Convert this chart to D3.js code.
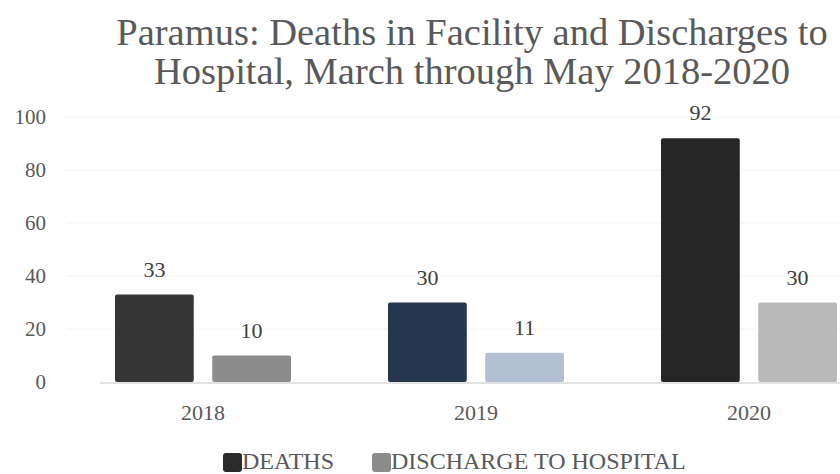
<!DOCTYPE html>
<html>
<head>
<meta charset="utf-8">
<script src="https://cdn.jsdelivr.net/npm/d3@7"></script>
<style>
  body { margin: 0; background: #fff; }
  svg { display: block; }
  text { font-family: 'Liberation Serif', 'Times New Roman', serif; }
</style>
</head>
<body>
<script>
const years = ['2018', '2019', '2020']
const seriesNames = ['DEATHS', 'DISCHARGE TO HOSPITAL']
const deaths = [33, 30, 92]
const discharges = [10, 11, 30]
const yTicks = [0, 20, 40, 60, 80, 100]
const titleLines = ['Paramus: Deaths in Facility and Discharges to', 'Hospital, March through May 2018-2020']

const W = 840, H = 474
const baseY = 382, topY = 117

// the picture fills each bar a little differently, keep it close
const fills = {
  DEATHS: ['#353535', '#27364f', '#262626'],
  'DISCHARGE TO HOSPITAL': ['#8c8c8c', '#b3bfd2', '#b9b9b9']
}
const legendFill = { DEATHS: '#2b2b2b', 'DISCHARGE TO HOSPITAL': '#8c8c8c' }

const rows = years.map((y, i) => ({ year: y, DEATHS: deaths[i], 'DISCHARGE TO HOSPITAL': discharges[i], i }))

const svg = d3.select('body').append('svg').attr('width', W).attr('height', H)

const y = d3.scaleLinear().domain([0, 100]).range([baseY, topY])
const x0 = d3.scaleBand().domain(years).range([66.5, 885.5]).padding(0)
const x1 = d3.scaleBand().domain(seriesNames).range([48.5, 224.5]).paddingInner(0.19)

// title
svg.append('g').selectAll('text').data(titleLines).join('text')
  .attr('x', 472).attr('y', (d, i) => 45 + i * 39)
  .attr('text-anchor', 'middle')
  .attr('font-size', 38.5).attr('fill', '#595959')
  .text(d => d)

// gridlines
svg.append('g').selectAll('line').data(yTicks.slice(1)).join('line')
  .attr('x1', 66).attr('x2', W).attr('y1', d => y(d)).attr('y2', d => y(d))
  .attr('stroke', '#f3f3f3').attr('stroke-width', 1)

// y tick labels
svg.append('g').selectAll('text').data(yTicks).join('text')
  .attr('x', 46).attr('y', d => y(d) + 7)
  .attr('text-anchor', 'end')
  .attr('font-size', 21).attr('fill', '#595959')
  .text(d => d)

// bars
const groups = svg.append('g').selectAll('g').data(rows).join('g')
  .attr('transform', d => `translate(${x0(d.year)},0)`)

groups.selectAll('rect')
  .data(d => seriesNames.map(k => ({ key: k, value: d[k], i: d.i })))
  .join('rect')
  .attr('x', d => x1(d.key))
  .attr('y', d => y(d.value))
  .attr('width', x1.bandwidth())
  .attr('height', d => baseY - y(d.value))
  .attr('rx', 2)
  .attr('fill', d => fills[d.key][d.i])

groups.selectAll('text')
  .data(d => seriesNames.map(k => ({ key: k, value: d[k] })))
  .join('text')
  .attr('x', d => x1(d.key) + x1.bandwidth() / 2)
  .attr('y', d => y(d.value) - 18)
  .attr('text-anchor', 'middle')
  .attr('font-size', 22).attr('fill', '#404040')
  .text(d => d.value)

// baseline
svg.append('line')
  .attr('x1', 100).attr('x2', W).attr('y1', baseY + 1).attr('y2', baseY + 1)
  .attr('stroke', '#d9d9d9').attr('stroke-width', 1.5)

// x labels
svg.append('g').selectAll('text').data(years).join('text')
  .attr('x', d => x0(d) + 48.5 + 88)
  .attr('y', 420)
  .attr('text-anchor', 'middle')
  .attr('font-size', 22).attr('fill', '#595959')
  .text(d => d)

// legend
const legendX = [223, 372]
const lg = svg.append('g').selectAll('g').data(seriesNames).join('g')
  .attr('transform', (d, i) => `translate(${legendX[i]},453)`)
lg.append('rect').attr('width', 19).attr('height', 19).attr('rx', 3)
  .attr('fill', d => legendFill[d])
lg.append('text').attr('x', 19).attr('y', 16)
  .attr('font-size', 24).attr('fill', '#595959')
  .text(d => d)
</script>
</body>
</html>
